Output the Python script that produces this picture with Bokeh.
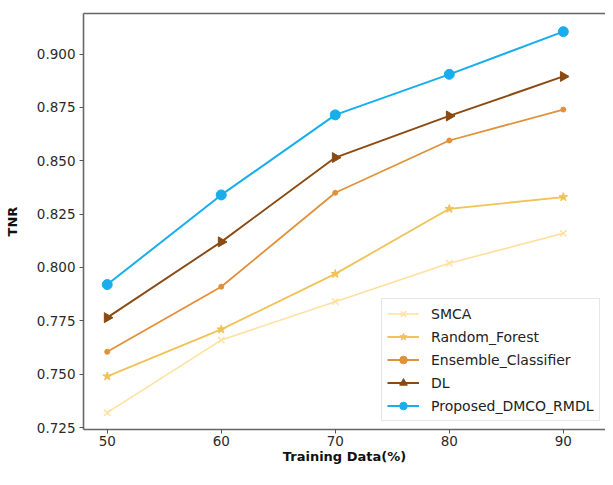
import math
from bokeh.plotting import figure
from bokeh.models import (Range1d, FixedTicker, NumeralTickFormatter, LinearAxis,
                          Legend, LegendItem)
from bokeh.embed import file_html
from bokeh.resources import INLINE

training = [50, 60, 70, 80, 90]
smca = [0.732, 0.766, 0.784, 0.802, 0.816]
random_forest = [0.749, 0.771, 0.797, 0.8275, 0.833]
ensemble = [0.7605, 0.791, 0.835, 0.8595, 0.874]
dl = [0.7765, 0.812, 0.8515, 0.871, 0.8895]
proposed = [0.792, 0.834, 0.8715, 0.8905, 0.9105]
y_ticks = [0.725, 0.750, 0.775, 0.800, 0.825, 0.850, 0.875, 0.900]

FONT = "DejaVu Sans"

p = figure(width=605, height=469, output_backend="svg", toolbar_location=None,
           x_range=Range1d(47.92, 93.7), y_range=Range1d(0.7241, 0.919),
           min_border_left=83, min_border_right=0, min_border_top=13,
           min_border_bottom=40)
p.outline_line_color = None
p.xgrid.visible = False
p.ygrid.visible = False
p.background_fill_color = "white"
p.border_fill_color = "white"

for ax in (p.xaxis[0], p.yaxis[0]):
    ax.axis_line_color = "#666666"
    ax.axis_line_width = 1.6
    ax.major_tick_line_color = "#555555"
    ax.major_tick_out = 4
    ax.major_tick_in = 0
    ax.minor_tick_line_color = None
    ax.major_label_text_font = FONT
    ax.major_label_text_font_size = "13.5px"
    ax.major_label_text_color = "#2a2a2a"
    ax.axis_label_text_font = FONT
    ax.axis_label_text_font_size = "13px"
    ax.axis_label_text_font_style = "bold"
    ax.axis_label_text_color = "#111111"

p.xaxis.ticker = FixedTicker(ticks=training)
p.xaxis.axis_label = "Training Data(%)"
p.xaxis.major_label_standoff = 2
p.xaxis.axis_label_standoff = 0
p.yaxis.ticker = FixedTicker(ticks=y_ticks)
p.yaxis.formatter = NumeralTickFormatter(format="0.000")
p.yaxis.axis_label = "TNR"
p.yaxis.major_label_standoff = 4
p.yaxis.axis_label_standoff = 14

top = LinearAxis(ticker=FixedTicker(ticks=[]), axis_line_color="#666666",
                 axis_line_width=1.6, major_tick_line_color=None,
                 minor_tick_line_color=None, major_label_text_font_size="0px")
p.add_layout(top, "above")

series = [
    ("SMCA", smca, "#FFE09E", "x", 9, 1.6),
    ("Random_Forest", random_forest, "#F0C257", "star", 9, 1.8),
    ("Ensemble_Classifier", ensemble, "#E0913A", "circle", 5, 1.8),
    ("DL", dl, "#8B4A12", "triangle", 10, 1.9),
    ("Proposed_DMCO_RMDL", proposed, "#18AEEE", "circle", 10, 2.0),
]

items = []
for name, vals, color, marker, size, lw in series:
    r1 = p.line(training, vals, line_color=color, line_width=lw)
    kw = dict(marker=marker, size=size, line_color=color, fill_color=color)
    if marker == "triangle":
        kw["angle"] = -math.pi / 2
    if marker == "x":
        kw["line_width"] = 1.5
    r2 = p.scatter(training, vals, **kw)
    items.append(LegendItem(label=name, renderers=[r1, r2]))

legend = Legend(items=items, location=(298, 8))
legend.label_text_font = FONT
legend.label_text_font_size = "14px"
legend.label_text_color = "#222222"
legend.glyph_width = 32
legend.glyph_height = 19
legend.label_height = 19
legend.label_standoff = 12
legend.spacing = 4
legend.padding = 5
legend.margin = 0
legend.border_line_color = "#d0d0d0"
legend.border_line_width = 1
legend.background_fill_alpha = 0.85
p.add_layout(legend, "center")

open("out.html", "w").write(file_html(p, INLINE))
